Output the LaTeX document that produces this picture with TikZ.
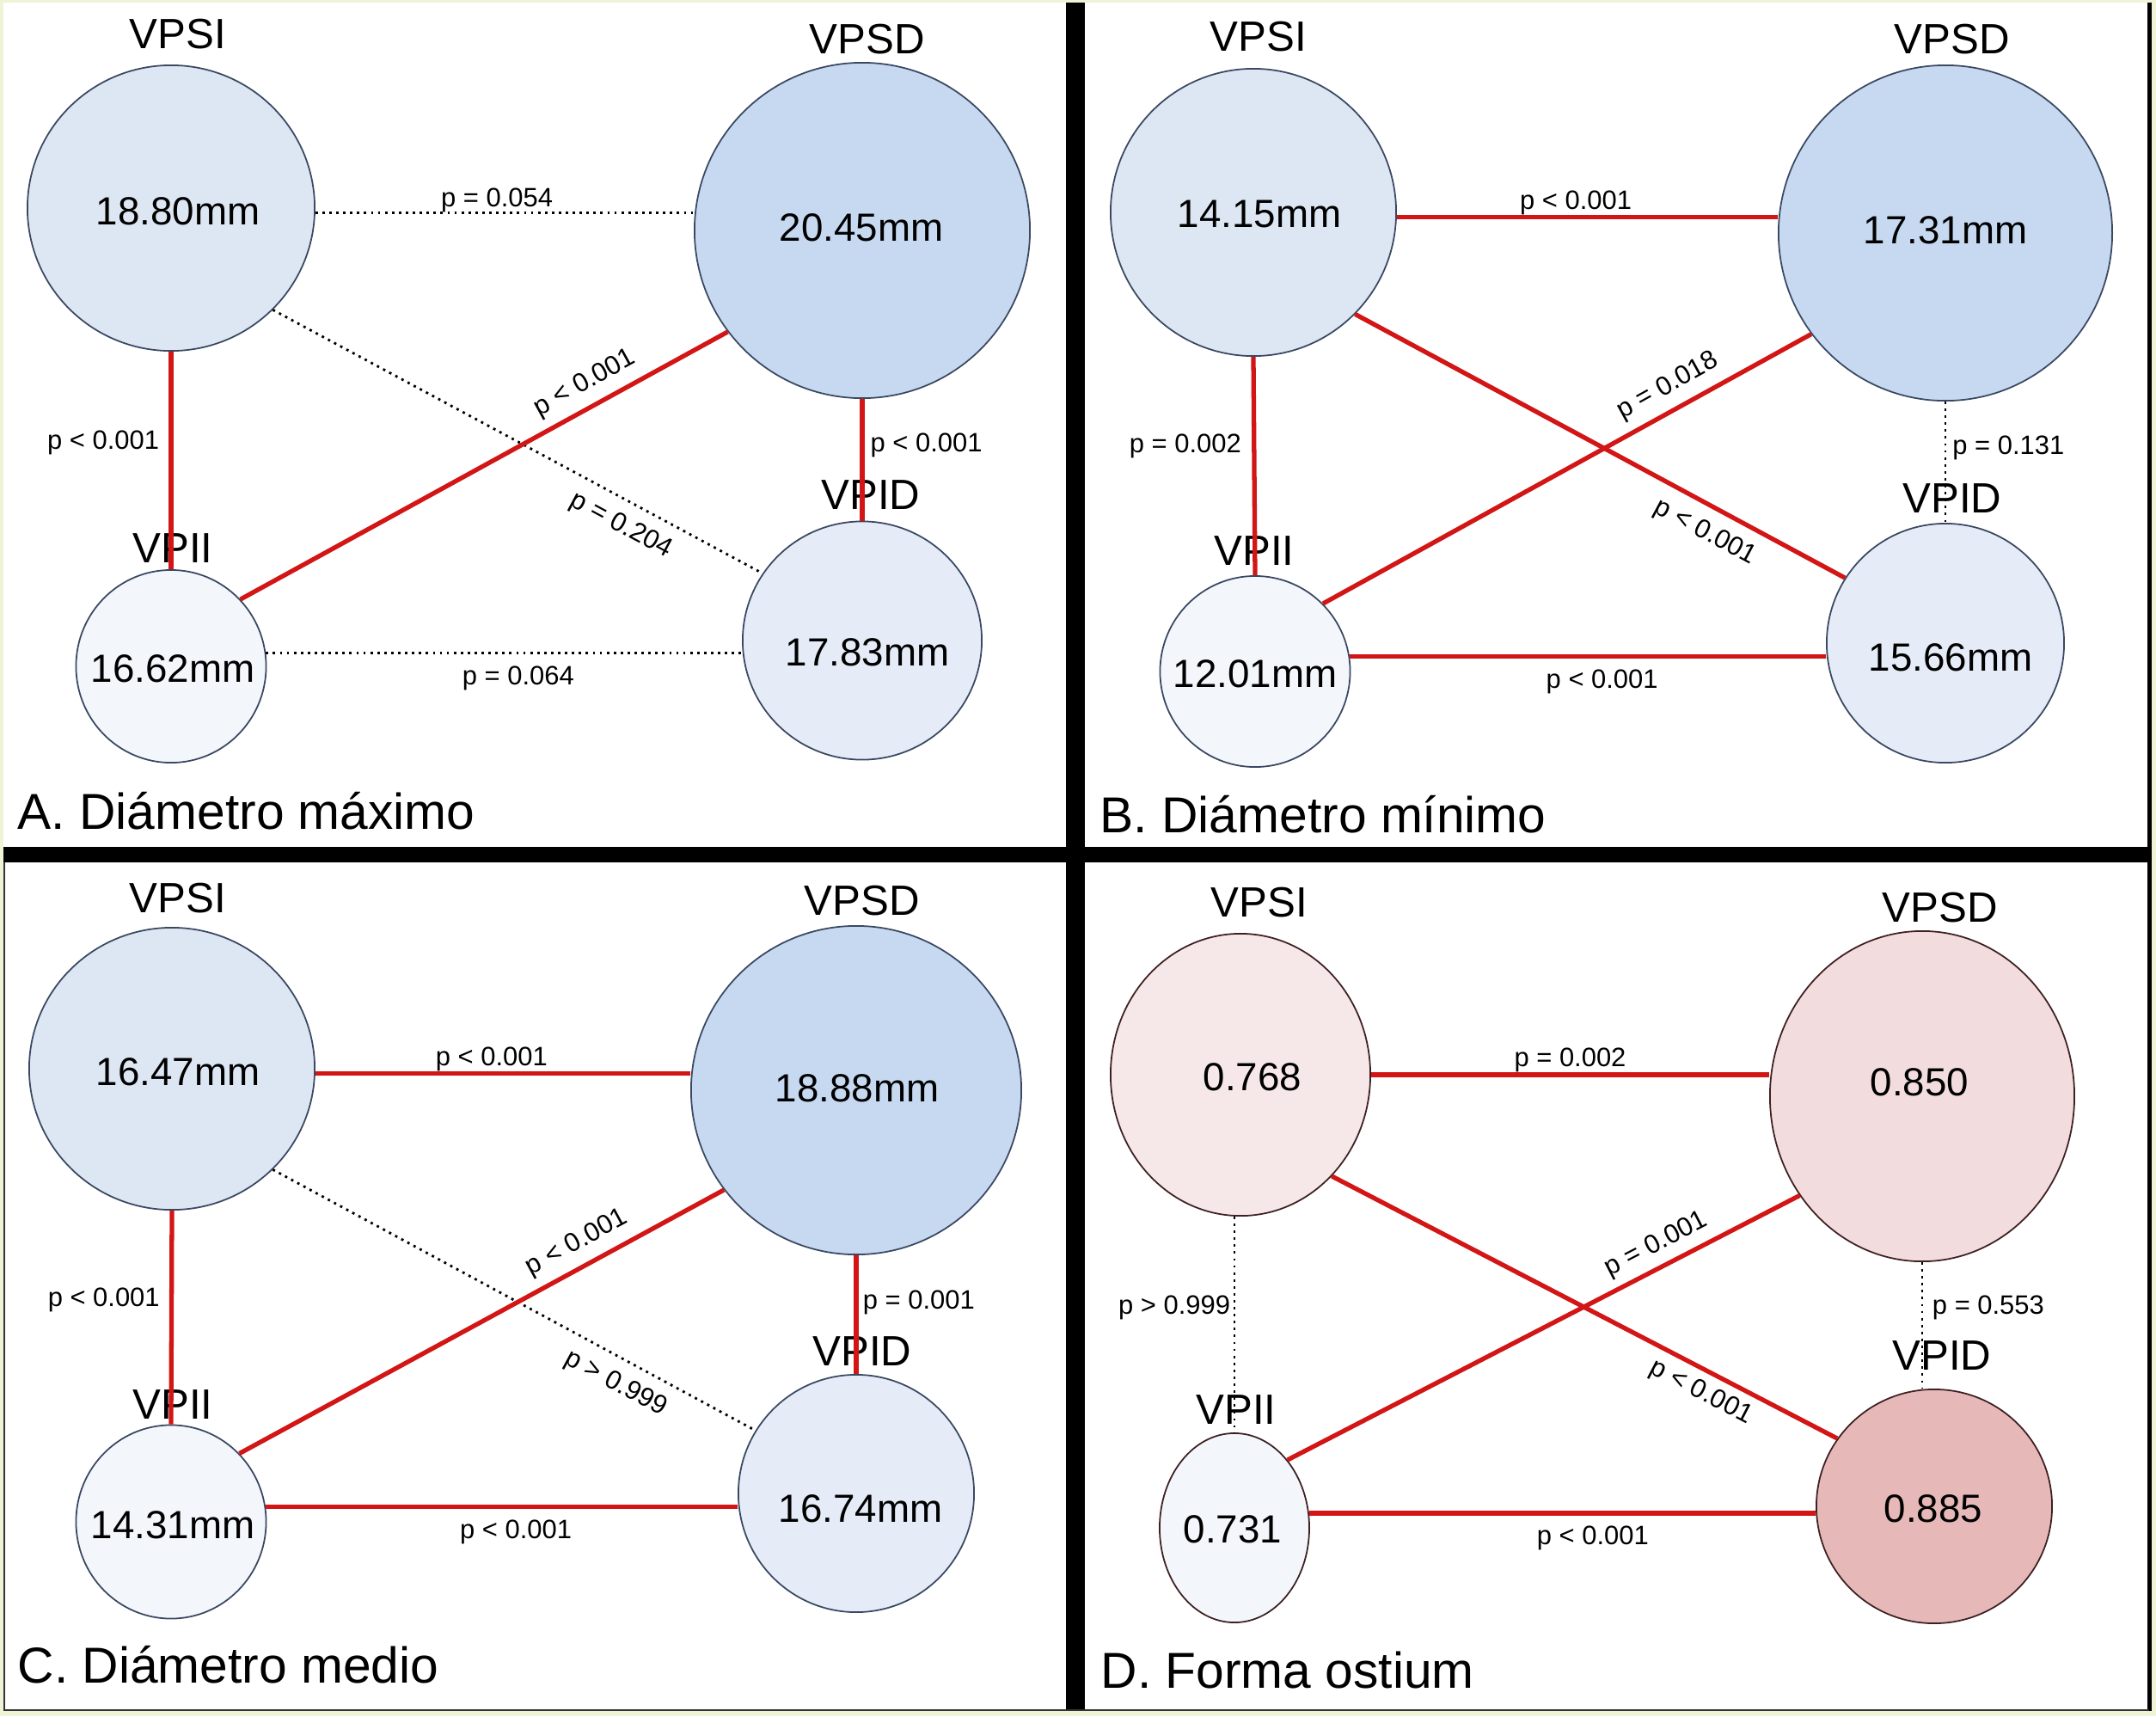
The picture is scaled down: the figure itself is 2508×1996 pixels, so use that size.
\documentclass[tikz,border=0pt]{standalone}
\usepackage{fontspec}
\setmainfont{Liberation Sans}
\usetikzlibrary{shapes.geometric}
\definecolor{bgyel}{RGB}{240,243,214}
\definecolor{siblue}{RGB}{221,230,243}
\definecolor{sdblue}{RGB}{198,217,240}
\definecolor{iiblue}{RGB}{243,246,251}
\definecolor{idblue}{RGB}{229,236,247}
\definecolor{bluerim}{RGB}{58,72,98}
\definecolor{sipink}{RGB}{246,232,232}
\definecolor{sdpink}{RGB}{242,220,221}
\definecolor{idpink}{RGB}{230,185,184}
\definecolor{pinkrim}{RGB}{62,32,34}
\definecolor{sigred}{RGB}{210,22,22}

\begin{document}
\begin{tikzpicture}[x=0.01cm,y=-0.01cm,
  blob/.style={ellipse,draw=bluerim,line width=0.5pt,inner sep=0pt},
  vname/.style={font=\fontsize{14}{14}\selectfont,inner sep=0pt},
  val/.style={font=\fontsize{13}{13}\selectfont,inner sep=0pt},
  plab/.style={font=\fontsize{8.8}{8.8}\selectfont,inner sep=0pt},
  panelcap/.style={font=\fontsize{16.7}{16.7}\selectfont,inner sep=0pt,anchor=base west},
  sigline/.style={draw=sigred,line width=1.5pt},
  nsline/.style={draw=black,line width=0.8pt,dash pattern=on 0.8pt off 1.5pt}]
\useasboundingbox (0,0) rectangle (2508,1996);
% frame
\fill[bgyel] (0,0) rectangle (2508,1996);
\fill[white] (4,3) rectangle (2503,1990);
\fill[black] (1240,3) rectangle (1262,1990);
\fill[black] (4,985) rectangle (2503,1003);
\fill[black] (2498,3) rectangle (2503,1990);
\draw[line width=0.6pt,black!80] (5,1003) -- (5,1989) -- (2500,1989);

% A. maximo
\node[blob,fill=siblue,minimum width=3.34cm,minimum height=3.32cm] (aSI) at (199,242) {};
\node[blob,fill=sdblue,minimum width=3.90cm,minimum height=3.90cm] (aSD) at (1003,268) {};
\node[blob,fill=iiblue,minimum width=2.21cm,minimum height=2.24cm] (aII) at (199,775) {};
\node[blob,fill=idblue,minimum width=2.78cm,minimum height=2.77cm] (aID) at (1003,745) {};
\node[vname] (aSIt) at (207,40) {VPSI};
\node[vname] (aSDt) at (1009,46) {VPSD};
\node[vname] (aIIt) at (201,638) {VPII};
\node[vname] (aIDt) at (1013,576) {VPID};
\node[val] (aSIv) at (207,246) {18.80mm};
\node[val] (aSDv) at (1002,265) {20.45mm};
\node[val] (aIIv) at (201,778) {16.62mm};
\node[val] (aIDv) at (1009,759) {17.83mm};
\draw[nsline] (aSI.358) -- (aSI.358 -| aSD.west) node[plab,pos=.48,above] (aP1) {p = 0.054};
\draw[nsline] (aSI.315) -- (aID.146) node[plab,pos=.735,below=4pt,sloped] (aP2) {p = 0.204};
\draw[sigline] (aSI.south) -- (aII.north) node[plab,pos=.42,left=3.2pt] (aP3) {p < 0.001};
\draw[sigline] (aII.44) -- (aSD.217) node[plab,pos=.73,above=3pt,sloped] (aP4) {p < 0.001};
\draw[sigline] (aSD.south) -- (aID.north) node[plab,pos=.38,right=2pt] (aP5) {p < 0.001};
\draw[nsline] (aII.8) -- (aII.8 -| aID.west) node[plab,pos=.53,below=4pt] (aP6) {p = 0.064};
\node[panelcap] (aCap) at (20,964) {A. Diámetro máximo};

% B. minimo
\node[blob,fill=siblue,minimum width=3.32cm,minimum height=3.34cm] (bSI) at (1458,247) {};
\node[blob,fill=sdblue,minimum width=3.88cm,minimum height=3.90cm] (bSD) at (2263,271) {};
\node[blob,fill=iiblue,minimum width=2.21cm,minimum height=2.22cm] (bII) at (1460,781) {};
\node[blob,fill=idblue,minimum width=2.76cm,minimum height=2.78cm] (bID) at (2263,748) {};
\node[vname] (bSIt) at (1464,43) {VPSI};
\node[vname] (bSDt) at (2271,46) {VPSD};
\node[vname] (bIIt) at (1459,641) {VPII};
\node[vname] (bIDt) at (2271,580) {VPID};
\node[val] (bSIv) at (1465,249) {14.15mm};
\node[val] (bSDv) at (2263,268) {17.31mm};
\node[val] (bIIv) at (1460,784) {12.01mm};
\node[val] (bIDv) at (2269,765) {15.66mm};
\draw[sigline] (bSI.358) -- (bSI.358 -| bSD.west) node[plab,pos=.47,above] (bP1) {p < 0.001};
\draw[sigline] (bSI.315) -- (bID.147) node[plab,pos=.74,below=4pt,sloped] (bP2) {p < 0.001};
\draw[sigline] (bSI.south) -- (bII.north) node[plab,pos=.41,left=3.5pt] (bP3) {p = 0.002};
\draw[sigline] (bII.45) -- (bSD.217) node[plab,pos=.73,above=3pt,sloped] (bP4) {p = 0.018};
\draw[nsline] (bSD.south) -- (bID.north) node[plab,pos=.38,right=2pt] (bP5) {p = 0.131};
\draw[sigline] (bII.9) -- (bII.9 -| bID.west) node[plab,pos=.53,below=3.5pt] (bP6) {p < 0.001};
\node[panelcap] (bCap) at (1279,968) {B. Diámetro mínimo};

% C. medio
\node[blob,fill=siblue,minimum width=3.32cm,minimum height=3.28cm] (cSI) at (200,1243) {};
\node[blob,fill=sdblue,minimum width=3.84cm,minimum height=3.82cm] (cSD) at (996,1268) {};
\node[blob,fill=iiblue,minimum width=2.21cm,minimum height=2.25cm] (cII) at (199,1770) {};
\node[blob,fill=idblue,minimum width=2.74cm,minimum height=2.76cm] (cID) at (996,1737) {};
\node[vname] (cSIt) at (207,1045) {VPSI};
\node[vname] (cSDt) at (1003,1048) {VPSD};
\node[vname] (cIIt) at (201,1634) {VPII};
\node[vname] (cIDt) at (1003,1572) {VPID};
\node[val] (cSIv) at (207,1247) {16.47mm};
\node[val] (cSDv) at (997,1266) {18.88mm};
\node[val] (cIIv) at (201,1774) {14.31mm};
\node[val] (cIDv) at (1001,1755) {16.74mm};
\draw[sigline] (cSI.358) -- (cSI.358 -| cSD.west) node[plab,pos=.47,above] (cP1) {p < 0.001};
\draw[nsline] (cSI.315) -- (cID.148) node[plab,pos=.735,below=4pt,sloped] (cP2) {p > 0.999};
\draw[sigline] (cSI.south) -- (cII.north) node[plab,pos=.42,left=3.2pt] (cP3) {p < 0.001};
\draw[sigline] (cII.45) -- (cSD.217) node[plab,pos=.72,above=3pt,sloped] (cP4) {p < 0.001};
\draw[sigline] (cSD.south) -- (cID.north) node[plab,pos=.4,right=1.5pt] (cP5) {p = 0.001};
\draw[sigline] (cII.9) -- (cII.9 -| cID.west) node[plab,pos=.53,below=3.5pt] (cP6) {p < 0.001};
\node[panelcap] (cCap) at (20,1957) {C. Diámetro medio};

% D. forma
\node[blob,draw=pinkrim,fill=sipink,minimum width=3.02cm,minimum height=3.28cm] (dSI) at (1443,1250) {};
\node[blob,draw=pinkrim,fill=sdpink,minimum width=3.54cm,minimum height=3.84cm] (dSD) at (2236,1275) {};
\node[blob,draw=pinkrim,fill=iiblue,minimum width=1.74cm,minimum height=2.20cm] (dII) at (1436,1777) {};
\node[blob,draw=pinkrim,fill=idpink,minimum width=2.74cm,minimum height=2.72cm] (dID) at (2250,1752) {};
\node[vname] (dSIt) at (1465,1050) {VPSI};
\node[vname] (dSDt) at (2257,1056) {VPSD};
\node[vname] (dIIt) at (1438,1640) {VPII};
\node[vname] (dIDt) at (2259,1577) {VPID};
\node[val] (dSIv) at (1457,1253) {0.768};
\node[val] (dSDv) at (2233,1259) {0.850};
\node[val] (dIIv) at (1434,1779) {0.731};
\node[val] (dIDv) at (2249,1755) {0.885};
\draw[sigline] (dSI.east) -- (dSI.east -| dSD.west) node[plab,pos=.5,above] (dP1) {p = 0.002};
\draw[sigline] (dSI.312) -- (dID.145) node[plab,pos=.75,below=2.5pt,sloped] (dP2) {p < 0.001};
\draw[nsline] (dII.north |- dSI.south) -- (dII.north) node[plab,pos=.42,left=1pt] (dP3) {p > 0.999};
\draw[sigline] (dII.52) -- (dSD.219) node[plab,pos=.74,above=2.5pt,sloped] (dP4) {p = 0.001};
\draw[nsline] (dSD.south) -- (dSD.south |- dID.north) node[plab,pos=.36,right=3pt] (dP5) {p = 0.553};
\draw[sigline] (dII.11) -- (dII.11 -| dID.west) node[plab,pos=.56,below=3.5pt] (dP6) {p < 0.001};
\node[panelcap] (dCap) at (1280,1963) {D. Forma ostium};
\end{tikzpicture}
\end{document}
